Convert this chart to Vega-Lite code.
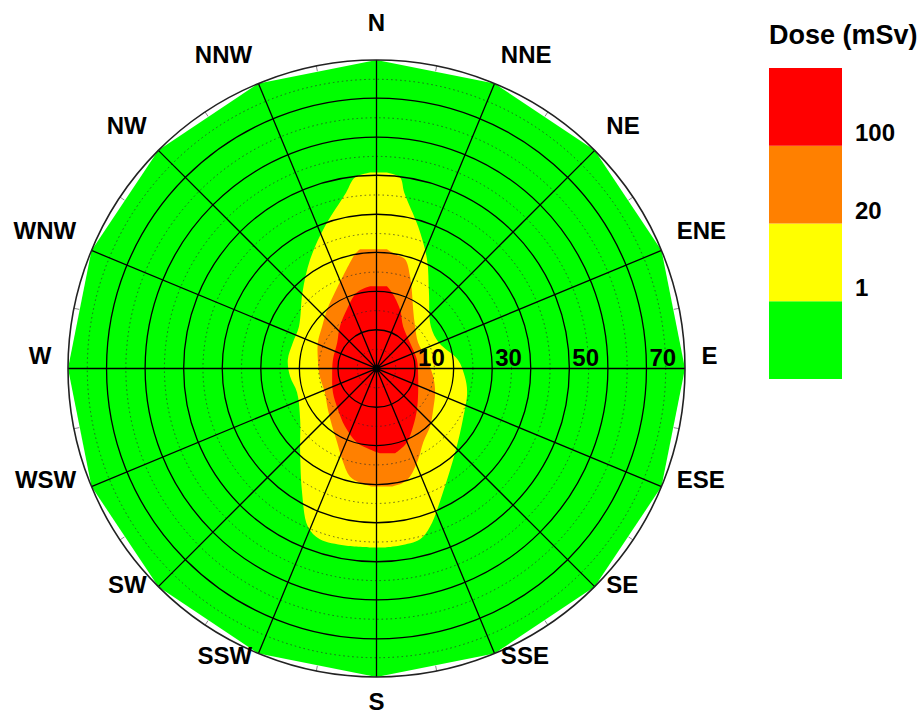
{
  "$schema": "https://vega.github.io/schema/vega-lite/v6.json",
  "width": 617,
  "height": 617,
  "autosize": "none",
  "padding": {"left": 68, "top": 60, "right": 237, "bottom": 41},
  "background": "white",
  "config": {"view": {"stroke": null}},
  "datasets": {
    "contours": [
      {"level": "green", "doseBand": 0, "y": 80, "xl": 0, "xr": 0},
      {"level": "green", "doseBand": 0, "y": 73.91, "xl": -30.615, "xr": 30.615},
      {"level": "green", "doseBand": 0, "y": 56.569, "xl": -56.569, "xr": 56.569},
      {"level": "green", "doseBand": 0, "y": 30.615, "xl": -73.91, "xr": 73.91},
      {"level": "green", "doseBand": 0, "y": 0, "xl": -80, "xr": 80},
      {"level": "green", "doseBand": 0, "y": -30.615, "xl": -73.91, "xr": 73.91},
      {"level": "green", "doseBand": 0, "y": -56.569, "xl": -56.569, "xr": 56.569},
      {"level": "green", "doseBand": 0, "y": -73.91, "xl": -30.615, "xr": 30.615},
      {"level": "green", "doseBand": 0, "y": -80, "xl": 0, "xr": 0},

      {"level": "yellow", "doseBand": 1, "y": 50.8, "xl": -1.5, "xr": 2.5},
      {"level": "yellow", "doseBand": 1, "y": 49.5, "xl": -5.6, "xr": 6.1},
      {"level": "yellow", "doseBand": 1, "y": 45.6, "xl": -7.9, "xr": 7.2},
      {"level": "yellow", "doseBand": 1, "y": 36.8, "xl": -13.4, "xr": 10.8},
      {"level": "yellow", "doseBand": 1, "y": 28.3, "xl": -17.2, "xr": 13.1},
      {"level": "yellow", "doseBand": 1, "y": 19.7, "xl": -19.2, "xr": 13.6},
      {"level": "yellow", "doseBand": 1, "y": 10.9, "xl": -20.1, "xr": 14.1},
      {"level": "yellow", "doseBand": 1, "y": 6.7, "xl": -21.7, "xr": 16.2},
      {"level": "yellow", "doseBand": 1, "y": 2.3, "xl": -23.0, "xr": 21.1},
      {"level": "yellow", "doseBand": 1, "y": -2.1, "xl": -22.4, "xr": 22.9},
      {"level": "yellow", "doseBand": 1, "y": -6.2, "xl": -20.6, "xr": 23.5},
      {"level": "yellow", "doseBand": 1, "y": -13.2, "xl": -19.8, "xr": 22.4},
      {"level": "yellow", "doseBand": 1, "y": -21.8, "xl": -19.8, "xr": 20.4},
      {"level": "yellow", "doseBand": 1, "y": -32.2, "xl": -19.3, "xr": 17.2},
      {"level": "yellow", "doseBand": 1, "y": -41.0, "xl": -17.8, "xr": 13.9},
      {"level": "yellow", "doseBand": 1, "y": -44.3, "xl": -14.7, "xr": 11.3},
      {"level": "yellow", "doseBand": 1, "y": -45.9, "xl": -8.2, "xr": 6.1},
      {"level": "yellow", "doseBand": 1, "y": -46.4, "xl": -1.7, "xr": 2.2},

      {"level": "orange", "doseBand": 2, "y": 30.9, "xl": -4.3, "xr": 2.7},
      {"level": "orange", "doseBand": 2, "y": 29.6, "xl": -5.6, "xr": 4.8},
      {"level": "orange", "doseBand": 2, "y": 28.3, "xl": -6.4, "xr": 7.4},
      {"level": "orange", "doseBand": 2, "y": 23.9, "xl": -8.7, "xr": 8.7},
      {"level": "orange", "doseBand": 2, "y": 19.7, "xl": -10.8, "xr": 9.2},
      {"level": "orange", "doseBand": 2, "y": 15.3, "xl": -12.8, "xr": 9.5},
      {"level": "orange", "doseBand": 2, "y": 10.9, "xl": -14.1, "xr": 10.0},
      {"level": "orange", "doseBand": 2, "y": 6.7, "xl": -15.2, "xr": 10.8},
      {"level": "orange", "doseBand": 2, "y": 2.3, "xl": -15.2, "xr": 13.1},
      {"level": "orange", "doseBand": 2, "y": -2.1, "xl": -14.7, "xr": 14.7},
      {"level": "orange", "doseBand": 2, "y": -6.2, "xl": -13.4, "xr": 15.2},
      {"level": "orange", "doseBand": 2, "y": -10.6, "xl": -12.6, "xr": 14.7},
      {"level": "orange", "doseBand": 2, "y": -15.0, "xl": -11.5, "xr": 13.9},
      {"level": "orange", "doseBand": 2, "y": -19.2, "xl": -10.2, "xr": 12.1},
      {"level": "orange", "doseBand": 2, "y": -23.6, "xl": -8.9, "xr": 10.8},
      {"level": "orange", "doseBand": 2, "y": -28.0, "xl": -6.9, "xr": 8.7},
      {"level": "orange", "doseBand": 2, "y": -29.6, "xl": -4.3, "xr": 6.9},
      {"level": "orange", "doseBand": 2, "y": -30.6, "xl": -1.2, "xr": 4.0},

      {"level": "red", "doseBand": 3, "y": 21.3, "xl": -1.7, "xr": 2.7},
      {"level": "red", "doseBand": 3, "y": 19.7, "xl": -5.1, "xr": 4.0},
      {"level": "red", "doseBand": 3, "y": 15.3, "xl": -7.7, "xr": 6.1},
      {"level": "red", "doseBand": 3, "y": 10.9, "xl": -9.5, "xr": 6.9},
      {"level": "red", "doseBand": 3, "y": 6.7, "xl": -10.2, "xr": 8.7},
      {"level": "red", "doseBand": 3, "y": 2.3, "xl": -11.3, "xr": 10.5},
      {"level": "red", "doseBand": 3, "y": -2.1, "xl": -11.5, "xr": 10.8},
      {"level": "red", "doseBand": 3, "y": -6.2, "xl": -11.3, "xr": 10.8},
      {"level": "red", "doseBand": 3, "y": -10.6, "xl": -10.0, "xr": 10.5},
      {"level": "red", "doseBand": 3, "y": -15.0, "xl": -8.2, "xr": 9.5},
      {"level": "red", "doseBand": 3, "y": -19.2, "xl": -5.1, "xr": 7.9},
      {"level": "red", "doseBand": 3, "y": -21.0, "xl": -1.7, "xr": 6.1},
      {"level": "red", "doseBand": 3, "y": -22.0, "xl": 0.9, "xr": 4.8}
    ],
    "rings": [
      {"r": 5, "kind": "dot"}, {"r": 15, "kind": "dot"}, {"r": 25, "kind": "dot"}, {"r": 35, "kind": "dot"},
      {"r": 45, "kind": "dot"}, {"r": 55, "kind": "dot"}, {"r": 65, "kind": "dot"}, {"r": 75, "kind": "dot"},
      {"r": 10, "kind": "solid"}, {"r": 20, "kind": "solid"}, {"r": 30, "kind": "solid"}, {"r": 40, "kind": "solid"},
      {"r": 50, "kind": "solid"}, {"r": 60, "kind": "solid"}, {"r": 70, "kind": "solid"},
      {"r": 80, "kind": "outer"}
    ],
    "spokes": [
      {"sx": 0, "sy": 80, "ex": 0, "ey": -80},
      {"sx": 30.615, "sy": 73.91, "ex": -30.615, "ey": -73.91},
      {"sx": 56.569, "sy": 56.569, "ex": -56.569, "ey": -56.569},
      {"sx": 73.91, "sy": 30.615, "ex": -73.91, "ey": -30.615},
      {"sx": 80, "sy": 0, "ex": -80, "ey": 0},
      {"sx": 73.91, "sy": -30.615, "ex": -73.91, "ey": 30.615},
      {"sx": 56.569, "sy": -56.569, "ex": -56.569, "ey": 56.569},
      {"sx": 30.615, "sy": -73.91, "ex": -30.615, "ey": 73.91}
    ],
    "ticks": [
      {"ax": 15.334, "ay": 77.09, "bx": 15.607, "by": 78.463},
      {"ax": 43.668, "ay": 65.354, "bx": 44.446, "by": 66.518},
      {"ax": 65.354, "ay": 43.668, "bx": 66.518, "by": 44.446},
      {"ax": 77.09, "ay": 15.334, "bx": 78.463, "by": 15.607},
      {"ax": 15.334, "ay": -77.09, "bx": 15.607, "by": -78.463},
      {"ax": 43.668, "ay": -65.354, "bx": 44.446, "by": -66.518},
      {"ax": 65.354, "ay": -43.668, "bx": 66.518, "by": -44.446},
      {"ax": 77.09, "ay": -15.334, "bx": 78.463, "by": -15.607},
      {"ax": -15.334, "ay": 77.09, "bx": -15.607, "by": 78.463},
      {"ax": -43.668, "ay": 65.354, "bx": -44.446, "by": 66.518},
      {"ax": -65.354, "ay": 43.668, "bx": -66.518, "by": 44.446},
      {"ax": -77.09, "ay": 15.334, "bx": -78.463, "by": 15.607},
      {"ax": -15.334, "ay": -77.09, "bx": -15.607, "by": -78.463},
      {"ax": -43.668, "ay": -65.354, "bx": -44.446, "by": -66.518},
      {"ax": -65.354, "ay": -43.668, "bx": -66.518, "by": -44.446},
      {"ax": -77.09, "ay": -15.334, "bx": -78.463, "by": -15.607}
    ],
    "dirs": [
      {"dir": "N", "angle": 0}, {"dir": "NNE", "angle": 22.5}, {"dir": "NE", "angle": 45}, {"dir": "ENE", "angle": 67.5},
      {"dir": "E", "angle": 90}, {"dir": "ESE", "angle": 112.5}, {"dir": "SE", "angle": 135}, {"dir": "SSE", "angle": 157.5},
      {"dir": "S", "angle": 180}, {"dir": "SSW", "angle": 202.5}, {"dir": "SW", "angle": 225}, {"dir": "WSW", "angle": 247.5},
      {"dir": "W", "angle": 270}, {"dir": "WNW", "angle": 292.5}, {"dir": "NW", "angle": 315}, {"dir": "NNW", "angle": 337.5}
    ],
    "ringLabels": [
      {"r": 10, "label": "10"}, {"r": 30, "label": "30"}, {"r": 50, "label": "50"}, {"r": 70, "label": "70"}
    ],
    "center": [{"cx": 0, "cy": 0}]
  },
  "layer": [
    {
      "data": {"name": "contours"},
      "transform": [{"filter": "datum.level == 'green'"}],
      "mark": {"type": "area", "orient": "horizontal", "interpolate": "linear"},
      "encoding": {
        "y": {"field": "y", "type": "quantitative", "scale": {"domain": [-80, 80], "nice": false}, "axis": null},
        "x": {"field": "xl", "type": "quantitative", "scale": {"domain": [-80, 80], "nice": false}, "axis": null, "stack": null},
        "x2": {"field": "xr"},
        "color": {
          "field": "doseBand", "type": "quantitative",
          "scale": {"type": "threshold", "domain": [0.5, 1.5, 2.5], "range": ["#00FF00", "#FFFF00", "#FF8000", "#FF0000"]},
          "legend": {
            "type": "gradient", "orient": "none", "legendX": 701, "legendY": -37, "direction": "vertical",
            "title": "Dose (mSv)", "titleFont": "Liberation Sans", "titleFontSize": 27, "titleFontWeight": "bold",
            "titleColor": "black", "titlePadding": 18,
            "gradientLength": 311, "gradientThickness": 73, "gradientStrokeWidth": 0,
            "labelFont": "Liberation Sans", "labelFontSize": 24, "labelFontWeight": "bold", "labelColor": "black",
            "labelOffset": 13, "labelOverlap": false,
            "labelExpr": "datum.value < 0 ? '' : datum.value < 1 ? '1' : datum.value < 2 ? '20' : '100'",
            "encode": {"labels": {"update": {"dy": {"value": -12}}}}
          }
        }
      }
    },
    {
      "data": {"name": "contours"},
      "transform": [{"filter": "datum.level == 'yellow'"}],
      "mark": {"type": "area", "orient": "horizontal", "interpolate": "catmull-rom"},
      "encoding": {
        "y": {"field": "y", "type": "quantitative", "axis": null},
        "x": {"field": "xl", "type": "quantitative", "stack": null, "axis": null},
        "x2": {"field": "xr"},
        "color": {"field": "doseBand", "type": "quantitative",
          "scale": {"type": "threshold", "domain": [0.5, 1.5, 2.5], "range": ["#00FF00", "#FFFF00", "#FF8000", "#FF0000"]}}
      }
    },
    {
      "data": {"name": "contours"},
      "transform": [{"filter": "datum.level == 'orange'"}],
      "mark": {"type": "area", "orient": "horizontal", "interpolate": "catmull-rom"},
      "encoding": {
        "y": {"field": "y", "type": "quantitative", "axis": null},
        "x": {"field": "xl", "type": "quantitative", "stack": null, "axis": null},
        "x2": {"field": "xr"},
        "color": {"field": "doseBand", "type": "quantitative",
          "scale": {"type": "threshold", "domain": [0.5, 1.5, 2.5], "range": ["#00FF00", "#FFFF00", "#FF8000", "#FF0000"]}}
      }
    },
    {
      "data": {"name": "contours"},
      "transform": [{"filter": "datum.level == 'red'"}],
      "mark": {"type": "area", "orient": "horizontal", "interpolate": "catmull-rom"},
      "encoding": {
        "y": {"field": "y", "type": "quantitative", "axis": null},
        "x": {"field": "xl", "type": "quantitative", "stack": null, "axis": null},
        "x2": {"field": "xr"},
        "color": {"field": "doseBand", "type": "quantitative",
          "scale": {"type": "threshold", "domain": [0.5, 1.5, 2.5], "range": ["#00FF00", "#FFFF00", "#FF8000", "#FF0000"]}}
      }
    },
    {
      "data": {"name": "rings"},
      "transform": [{"filter": "datum.kind == 'dot'"}],
      "mark": {"type": "point", "shape": "circle", "filled": false, "stroke": "#2b2b2b", "strokeWidth": 1, "strokeDash": [1.5, 3], "opacity": 0.75},
      "encoding": {
        "x": {"datum": 0, "type": "quantitative", "axis": null},
        "y": {"datum": 0, "type": "quantitative", "axis": null},
        "size": {"field": "r", "type": "quantitative", "legend": null, "scale": {"type": "pow", "exponent": 2, "domain": [0, 80], "range": [0, 380689], "zero": true, "nice": false}}
      }
    },
    {
      "data": {"name": "rings"},
      "transform": [{"filter": "datum.kind == 'solid'"}],
      "mark": {"type": "point", "shape": "circle", "filled": false, "stroke": "black", "strokeWidth": 1.3, "opacity": 1},
      "encoding": {
        "x": {"datum": 0, "type": "quantitative", "axis": null},
        "y": {"datum": 0, "type": "quantitative", "axis": null},
        "size": {"field": "r", "type": "quantitative", "legend": null}
      }
    },
    {
      "data": {"name": "spokes"},
      "mark": {"type": "rule", "color": "black", "strokeWidth": 1.3},
      "encoding": {
        "x": {"field": "sx", "type": "quantitative", "axis": null},
        "y": {"field": "sy", "type": "quantitative", "axis": null},
        "x2": {"field": "ex"},
        "y2": {"field": "ey"}
      }
    },
    {
      "data": {"name": "ticks"},
      "mark": {"type": "rule", "color": "#888888", "strokeWidth": 1},
      "encoding": {
        "x": {"field": "ax", "type": "quantitative", "axis": null},
        "y": {"field": "ay", "type": "quantitative", "axis": null},
        "x2": {"field": "bx"},
        "y2": {"field": "by"}
      }
    },
    {
      "data": {"name": "rings"},
      "transform": [{"filter": "datum.kind == 'outer'"}],
      "mark": {"type": "point", "shape": "circle", "filled": false, "stroke": "#222222", "strokeWidth": 1.6, "opacity": 1},
      "encoding": {
        "x": {"datum": 0, "type": "quantitative", "axis": null},
        "y": {"datum": 0, "type": "quantitative", "axis": null},
        "size": {"field": "r", "type": "quantitative", "legend": null}
      }
    },
    {
      "data": {"name": "center"},
      "mark": {"type": "point", "shape": "circle", "filled": true, "color": "black", "size": 55, "opacity": 1},
      "encoding": {
        "x": {"field": "cx", "type": "quantitative", "axis": null},
        "y": {"field": "cy", "type": "quantitative", "axis": null}
      }
    },
    {
      "data": {"name": "ringLabels"},
      "mark": {"type": "text", "font": "Liberation Sans", "fontSize": 24, "fontWeight": "bold", "color": "black", "align": "left", "baseline": "alphabetic", "dx": 3, "dy": -3},
      "encoding": {
        "x": {"field": "r", "type": "quantitative", "axis": null},
        "y": {"datum": 0, "type": "quantitative", "axis": null},
        "text": {"field": "label"}
      }
    },
    {
      "data": {"name": "dirs"},
      "mark": {
        "type": "text", "font": "Liberation Sans", "fontSize": 24, "fontWeight": "bold", "color": "black",
        "align": {"expr": "datum.angle > 0 && datum.angle < 180 ? 'left' : datum.angle > 180 ? 'right' : 'center'"},
        "baseline": "middle",
        "dy": {"expr": "datum.angle == 0 ? -20 : datum.angle == 180 ? 9 : -12"}
      },
      "encoding": {
        "theta": {"field": "angle", "type": "quantitative", "stack": null, "scale": {"domain": [0, 360], "range": [0, 6.283185307179586]}},
        "radius": {"value": 325},
        "text": {"field": "dir"}
      }
    }
  ]
}
